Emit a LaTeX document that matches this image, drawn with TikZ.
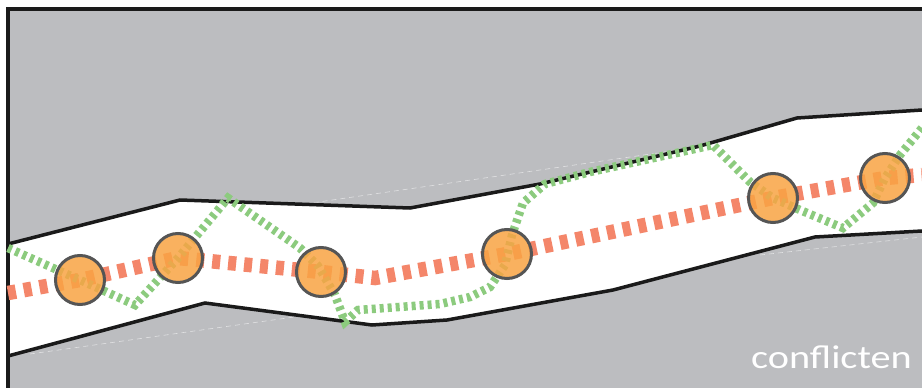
\documentclass[tikz,border=0pt]{standalone}
\usepackage{fontspec}
\newfontfamily\labelfont{Carlito}
\definecolor{bggrey}{HTML}{BCBDC0}
\definecolor{edgeblack}{HTML}{1A1A1A}
\definecolor{routeorange}{HTML}{F4866A}
\definecolor{routegreen}{HTML}{8CCB7E}
\definecolor{stopfill}{HTML}{F9A444}
\definecolor{stopedge}{HTML}{555555}
\tikzset{
  boundary/.style={draw=edgeblack, line width=3.5pt, line join=miter},
  frameline/.style={draw=edgeblack, line width=3.5pt},
  faint/.style={draw=white, line width=0.6pt, dash pattern=on 5pt off 4pt, opacity=0.55},
  mainroute/.style={draw=routeorange, line width=14.5pt, dash pattern=on 8pt off 8pt},
  altroute/.style={draw=routegreen, line width=8.5pt, dash pattern=on 4pt off 4pt, line join=miter},
  stop/.style={circle, minimum size=49pt, inner sep=0pt, draw=stopedge, line width=3pt, fill=stopfill, fill opacity=0.85, draw opacity=1},
  caption/.style={text=white, font=\labelfont\fontsize{33}{36}\selectfont, inner sep=0pt}
}
\begin{document}
\begin{tikzpicture}[x=1pt,y=-1pt]
\useasboundingbox (0,0) rectangle (922,388);
\fill[white] (0,0) rectangle (922,388);
\fill[bggrey] (8,9) rectangle (922,388);
% corridor
\fill[white] (8,244) -- (180,200) -- (410,208) -- (540,184) -- (700,146) -- (797,118) -- (922,110)
  -- (922,231) -- (815,237) -- (613,290) -- (447,320) -- (372,325) -- (205,303) -- (8,356) -- cycle;
% faint artefact lines
\draw[faint] (180,222) -- (713,145);
\draw[faint] (30,354) -- (330,312);
\draw[faint] (760,255) -- (922,237);
% corridor edges
\draw[boundary] (8,244) -- (180,200) -- (410,208) -- (540,184) -- (700,146) -- (797,118) -- (922,110);
\draw[boundary] (8,356) -- (205,303) -- (372,325) -- (447,320) -- (613,290) -- (815,237) -- (922,231);
% frame
\coordinate (fTL) at (8,9);
\coordinate (fTR) at (922,9);
\coordinate (fBL) at (8,388);
\draw[frameline] (fTR) -- (fTL) -- (fBL);
% stop positions
\coordinate (p1) at (80,280);
\coordinate (p2) at (178,258);
\coordinate (p3) at (321,272);
\coordinate (p4) at (507,254);
\coordinate (p5) at (773,198);
\coordinate (p6) at (885,178);
\coordinate (oS) at (8,293);
\coordinate (oE) at (922,175);
\coordinate (gS) at (8,248);
\coordinate (gE) at (922,128);
% main route
\draw[mainroute] (oS) -- (p1) -- (p2) -- (p3) -- (375,278) -- (p4) -- (p5) -- (p6) -- (oE);
% alternative route
\draw[altroute] (gS) -- (p1) -- (135,305) -- (p2) -- (228,198) -- (300,248) -- (318,266) -- (335,295) -- (345,322)
  -- (358,310) -- (440,304) -- (470,297) -- (490,287) -- (505,265) -- (512,235) -- (523,203) -- (545,184)
  -- (590,172) -- (713,145) -- (750,182) -- (p5) -- (800,210) -- (843,228) -- (873,203) -- (p6) -- (900,155) -- (gE);
% stops
\node[stop] (c1) at (p1) {};
\node[stop] (c2) at (p2) {};
\node[stop] (c3) at (p3) {};
\node[stop] (c4) at (p4) {};
\node[stop] (c5) at (p5) {};
\node[stop] (c6) at (p6) {};
% caption
\node[caption, anchor=base east] (lbl) at (912,368) {\scalebox{1.22}[1]{conflicten}};
\end{tikzpicture}
\end{document}
